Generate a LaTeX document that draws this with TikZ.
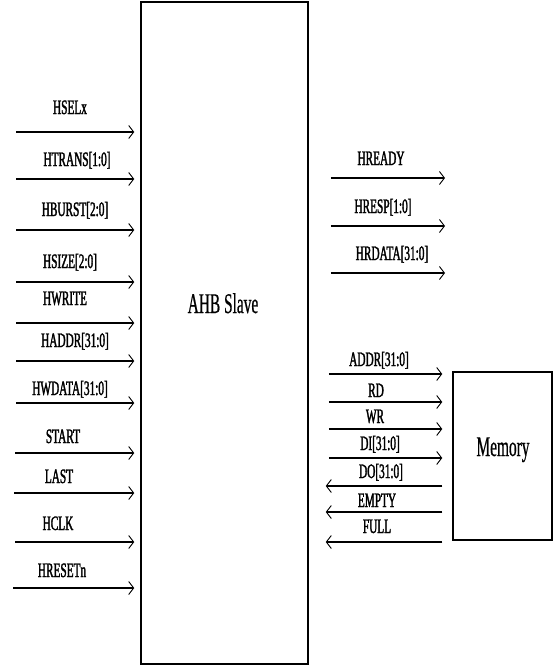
\documentclass[tikz,border=0pt]{standalone}
\usepackage{fontspec}
\usetikzlibrary{arrows.meta}
\newfontfamily\labfont[FakeStretch=0.55,FakeBold=1.6]{Liberation Serif}
\newfontfamily\bigfont[FakeStretch=0.54,FakeBold=0.6]{Liberation Serif}
\tikzset{
  sig/.style={line width=1.5pt,-{Straight Barb[length=5pt,width=13pt,line width=0.9pt]}},
  lab/.style={anchor=base,inner sep=0pt,font=\labfont\fontsize{20.5}{20.5}\selectfont},
  bigtext/.style={anchor=base,inner sep=0pt,font=\bigfont\fontsize{28.5}{28.5}\selectfont},
  blk/.style={draw,line width=1.5pt,inner sep=0pt}
}
\begin{document}
\begin{tikzpicture}[x=1pt,y=-1pt]
\useasboundingbox (0,0) rectangle (554,669);
% blocks
\node[blk,minimum width=167pt,minimum height=662pt] (slave) at (224.5,333) {};
\node[blk,minimum width=99pt,minimum height=168pt] (memory) at (502.5,456) {};
\node[bigtext] (slavetext) at (223,313) {AHB Slave};
\node[bigtext] (memtext) at (503,456) {Memory};
% left inputs
\coordinate (i1) at (16,132);
\coordinate (i2) at (16,179);
\coordinate (i3) at (16,230);
\coordinate (i4) at (16,282);
\coordinate (i5) at (16,323);
\coordinate (i6) at (16,361);
\coordinate (i7) at (16,403);
\coordinate (i8) at (15,453);
\coordinate (i9) at (14,493);
\coordinate (i10) at (15,542);
\coordinate (i11) at (13,588);
\foreach \i in {1,...,11}{
  \draw[sig,shorten >=6pt] (i\i) -- (slave.west |- i\i);
}
\node[lab] (l1) at (70,114) {HSELx};
\node[lab] (l2) at (77,166) {HTRANS[1:0]};
\node[lab] (l3) at (75,216) {HBURST[2:0]};
\node[lab] (l4) at (70,268) {HSIZE[2:0]};
\node[lab] (l5) at (65,305) {HWRITE};
\node[lab] (l6) at (75,347) {HADDR[31:0]};
\node[lab] (l7) at (70,395) {HWDATA[31:0]};
\node[lab] (l8) at (63,443) {START};
\node[lab] (l9) at (59,483) {LAST};
\node[lab] (l10) at (58,530) {HCLK};
\node[lab] (l11) at (62,577) {HRESETn};
% right outputs
\coordinate (o1) at (445,178);
\coordinate (o2) at (445,226);
\coordinate (o3) at (445,273);
\foreach \i in {1,2,3}{
  \draw[sig,shorten <=22pt] (slave.east |- o\i) -- (o\i);
}
\node[lab] (r1) at (381,165) {HREADY};
\node[lab] (r2) at (383,213) {HRESP[1:0]};
\node[lab] (r3) at (392,260) {HRDATA[31:0]};
% memory interface
\coordinate (m1) at (453,374);
\coordinate (m2) at (453,402);
\coordinate (m3) at (453,429);
\coordinate (m4) at (453,458);
\coordinate (m5) at (453,486);
\coordinate (m6) at (453,512);
\coordinate (m7) at (453,542);
\foreach \i in {1,2,3,4}{
  \draw[sig,shorten <=20pt,shorten >=10pt] (slave.east |- m\i) -- (memory.west |- m\i);
}
\foreach \i in {5,6,7}{
  \draw[sig,shorten <=10pt,shorten >=17pt] (memory.west |- m\i) -- (slave.east |- m\i);
}
\node[lab] (k1) at (379,366) {ADDR[31:0]};
\node[lab] (k2) at (376,397) {RD};
\node[lab] (k3) at (375,423) {WR};
\node[lab] (k4) at (380,450) {DI[31:0]};
\node[lab] (k5) at (381,478) {DO[31:0]};
\node[lab] (k6) at (377,507) {EMPTY};
\node[lab] (k7) at (377,533) {FULL};
\end{tikzpicture}
\end{document}
